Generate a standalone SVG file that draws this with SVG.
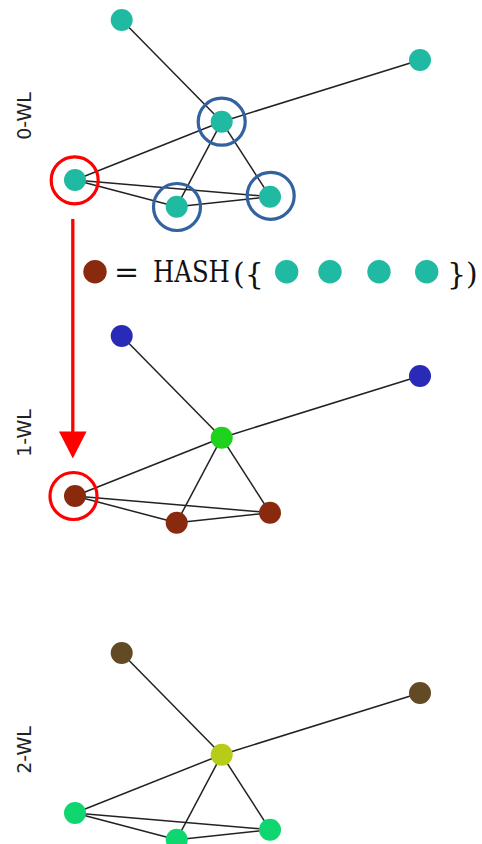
<svg xmlns="http://www.w3.org/2000/svg" width="482" height="844" viewBox="0 0 482 844">
<defs>
<style>
.e{stroke:#222;stroke-width:1.5;fill:none}
.lab{font-family:"DejaVu Sans",sans-serif;font-size:19px;fill:#222;text-anchor:middle}
.ring-b{fill:none;stroke:#3262a0;stroke-width:3.2}
.ring-r{fill:none;stroke:#ff0000;stroke-width:3.2}
.teal{fill:#20b9a2}
.rust{fill:#89290d}
.blue{fill:#2a2ab8}
.lime{fill:#1ed21e}
.mud{fill:#624a24}
.olive{fill:#b6cc18}
.mint{fill:#10d670}
.rm{font-family:"DejaVu Serif",serif;fill:#111}
</style>
</defs>
<g id="connectors">
<g id="edges-0">
<line class="e" x1="121.7" y1="20" x2="221.7" y2="121.7"/>
<line class="e" x1="420" y1="60" x2="221.7" y2="121.7"/>
<line class="e" x1="221.7" y1="121.7" x2="75" y2="180"/>
<line class="e" x1="221.7" y1="121.7" x2="176.7" y2="206.7"/>
<line class="e" x1="221.7" y1="121.7" x2="270" y2="196.7"/>
<line class="e" x1="75" y1="180" x2="176.7" y2="206.7"/>
<line class="e" x1="75" y1="180" x2="270" y2="196.7"/>
<line class="e" x1="176.7" y1="206.7" x2="270" y2="196.7"/>
</g>
<g id="edges-1" transform="translate(0,316)">
<line class="e" x1="121.7" y1="20" x2="221.7" y2="121.7"/>
<line class="e" x1="420" y1="60" x2="221.7" y2="121.7"/>
<line class="e" x1="221.7" y1="121.7" x2="75" y2="180"/>
<line class="e" x1="221.7" y1="121.7" x2="176.7" y2="206.7"/>
<line class="e" x1="221.7" y1="121.7" x2="270" y2="196.7"/>
<line class="e" x1="75" y1="180" x2="176.7" y2="206.7"/>
<line class="e" x1="75" y1="180" x2="270" y2="196.7"/>
<line class="e" x1="176.7" y1="206.7" x2="270" y2="196.7"/>
</g>
<g id="edges-2" transform="translate(0,633)">
<line class="e" x1="121.7" y1="20" x2="221.7" y2="121.7"/>
<line class="e" x1="420" y1="60" x2="221.7" y2="121.7"/>
<line class="e" x1="221.7" y1="121.7" x2="75" y2="180"/>
<line class="e" x1="221.7" y1="121.7" x2="176.7" y2="206.7"/>
<line class="e" x1="221.7" y1="121.7" x2="270" y2="196.7"/>
<line class="e" x1="75" y1="180" x2="176.7" y2="206.7"/>
<line class="e" x1="75" y1="180" x2="270" y2="196.7"/>
<line class="e" x1="176.7" y1="206.7" x2="270" y2="196.7"/>
</g>
<g id="red-arrow">
<line x1="72.8" y1="219" x2="72.8" y2="434" stroke="#ff0000" stroke-width="3.3"/>
<polygon points="59,431.5 86.6,431.5 72.8,458.5" fill="#ff0000"/>
</g>
</g>

<g id="wl0">
<g id="wl0-n1"><circle class="teal" cx="121.7" cy="20" r="11"/></g>
<g id="wl0-n2"><circle class="teal" cx="420" cy="60" r="11"/></g>
<g id="wl0-c"><circle class="teal" cx="221.7" cy="121.7" r="11"/></g>
<g id="wl0-l"><circle class="teal" cx="75" cy="180" r="11"/></g>
<g id="wl0-bm"><circle class="teal" cx="176.7" cy="206.7" r="11"/></g>
<g id="wl0-br"><circle class="teal" cx="270" cy="196.7" r="11"/></g>
<circle class="ring-b" cx="221.7" cy="121.7" r="23.5"/>
<circle class="ring-b" cx="177" cy="207" r="23.5"/>
<circle class="ring-b" cx="270.7" cy="195.8" r="23.5"/>
<circle class="ring-r" cx="74.7" cy="180.3" r="23.5"/>
</g>

<g id="wl1">
<g id="wl1-n1"><circle class="blue" cx="121.7" cy="336" r="11"/></g>
<g id="wl1-n2"><circle class="blue" cx="420" cy="376" r="11"/></g>
<g id="wl1-c"><circle class="lime" cx="221.7" cy="437.7" r="11"/></g>
<g id="wl1-l"><circle class="rust" cx="75" cy="496" r="11"/></g>
<g id="wl1-bm"><circle class="rust" cx="176.7" cy="522.7" r="11"/></g>
<g id="wl1-br"><circle class="rust" cx="270" cy="512.7" r="11"/></g>
<circle class="ring-r" cx="73.5" cy="496" r="23.5"/>
</g>

<g id="wl2">
<g id="wl2-n1"><circle class="mud" cx="121.7" cy="653" r="11"/></g>
<g id="wl2-n2"><circle class="mud" cx="420" cy="693" r="11"/></g>
<g id="wl2-c"><circle class="olive" cx="221.7" cy="754.7" r="11"/></g>
<g id="wl2-l"><circle class="mint" cx="75" cy="813" r="11"/></g>
<g id="wl2-bm"><circle class="mint" cx="176.7" cy="839.7" r="11"/></g>
<g id="wl2-br"><circle class="mint" cx="270" cy="829.7" r="11"/></g>
</g>

<g id="labels">
<text class="lab" transform="translate(31,116) rotate(-90)">0-WL</text>
<text class="lab" transform="translate(31,433) rotate(-90)">1-WL</text>
<text class="lab" transform="translate(31,750) rotate(-90)">2-WL</text>
</g>

<g id="formula">
<circle class="rust" cx="95" cy="271.7" r="11.7"/>
<text class="rm" x="114" y="282" font-size="30">=</text>
<text class="rm" transform="translate(153,282.3) scale(1,1.24)" font-size="24.4">HASH</text>
<text class="rm" x="233" y="283.5" font-size="30">({</text>
<circle class="teal" cx="286.7" cy="271.7" r="11.7"/>
<circle class="teal" cx="330" cy="271.7" r="11.7"/>
<circle class="teal" cx="379" cy="271.7" r="11.7"/>
<circle class="teal" cx="426.7" cy="271.7" r="11.7"/>
<text class="rm" x="447" y="283.5" font-size="30">})</text>
</g>
</svg>
